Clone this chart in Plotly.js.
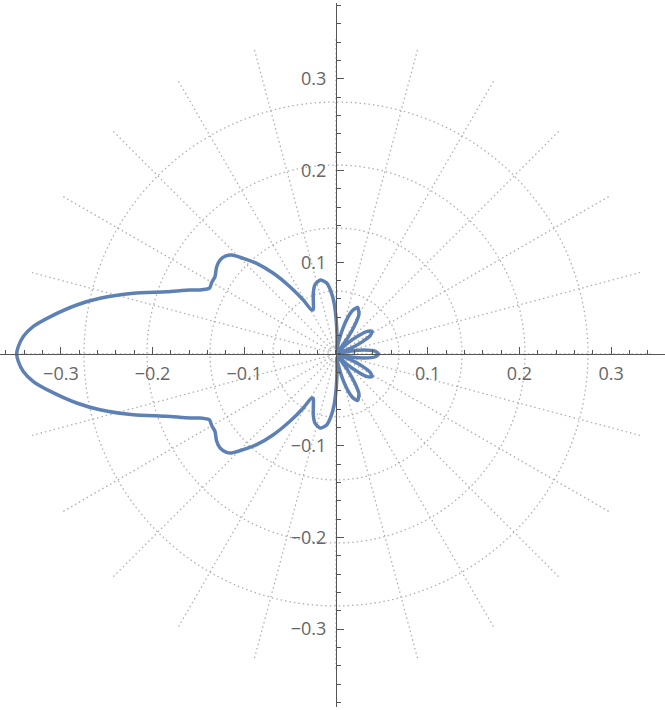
<!DOCTYPE html>
<html>
<head>
<meta charset="utf-8">
<script src="https://cdn.plot.ly/plotly-3.0.1.min.js"></script>
<style>html,body{margin:0;padding:0;background:#fff;}#chart{width:665px;height:710px;}</style>
</head>
<body>
<div id="chart"></div>
<script>
// Upper half of the polar curve (symmetric about the x-axis): angle in degrees, radius
const thetaDeg = [0, 4, 8, 11, 13.5, 17, 21, 25, 28, 32, 36, 39, 43, 47,
  51, 54, 57, 60, 65, 69, 72, 75, 78, 80.5, 83, 86, 88, 90, 92, 94.5, 97.5, 102,
  107, 110.5, 114, 117, 119, 121.2, 124.4, 127.8, 131.2, 134.1, 136.5, 138.3, 141,
  144, 147.4, 149.9, 152.5, 154.8, 156.3, 159.8, 163.3, 166.7, 169.3, 172.6,
  174.8, 176.8, 178.7, 180];
const radius = [0.0465, 0.043, 0.031, 0.017, 0.004, 0.004, 0.017, 0.032, 0.042, 0.0465, 0.042, 0.032, 0.017, 0.004,
  0.006, 0.022, 0.038, 0.050, 0.056, 0.051, 0.042, 0.029, 0.014, 0.005, 0.008, 0.016, 0.026, 0.040, 0.055, 0.068, 0.078, 0.0826,
  0.0787, 0.0707, 0.0606, 0.0545, 0.0550, 0.0688, 0.0889, 0.1114, 0.1314, 0.1453, 0.1568, 0.1607, 0.1628,
  0.1610, 0.1566, 0.1564, 0.1555, 0.1639, 0.1738, 0.1967, 0.2307, 0.2644, 0.2878, 0.3145,
  0.3314, 0.3415, 0.3466, 0.3482];

// Axis ticks
const tickVals = [-0.3, -0.2, -0.1, 0.1, 0.2, 0.3];
const tickText = ["\u22120.3", "\u22120.2", "\u22120.1", "0.1", "0.2", "0.3"];

// Polar grid
const gridRadii = [0.0035, 0.007, 0.0687, 0.1374, 0.2061, 0.2748];
const spokeAngles = [];
for (let a = 0; a < 360; a += 15) spokeAngles.push(a);
const spokeInner = 0.008, spokeOuter = 0.346;

// Build full closed curve: upper half forward, then lower half mirrored back
const xs = [], ys = [];
for (let i = 0; i < thetaDeg.length; i++) {
  const t = thetaDeg[i] * Math.PI / 180;
  xs.push(radius[i] * Math.cos(t)); ys.push(radius[i] * Math.sin(t));
}
for (let i = thetaDeg.length - 2; i >= 0; i--) {
  const t = -thetaDeg[i] * Math.PI / 180;
  xs.push(radius[i] * Math.cos(t)); ys.push(radius[i] * Math.sin(t));
}

const xr = [-0.3664, 0.3588];
const yr = [-0.3850, 0.3828];

const gridLine = {color: '#b0b0b0', width: 1.3, dash: '1.5px,3px'};
const shapes = [];
gridRadii.forEach(r => shapes.push({type: 'circle', xref: 'x', yref: 'y', x0: -r, x1: r, y0: -r, y1: r, line: gridLine, layer: 'below'}));
spokeAngles.forEach(a => {
  const t = a * Math.PI / 180;
  shapes.push({type: 'line', xref: 'x', yref: 'y',
    x0: spokeInner * Math.cos(t), y0: spokeInner * Math.sin(t),
    x1: spokeOuter * Math.cos(t), y1: spokeOuter * Math.sin(t),
    line: gridLine, layer: 'below'});
});

const tickFont = {family: 'Open Sans, Liberation Sans, sans-serif', size: 18, color: '#666'};
const axisCommon = {
  showgrid: false, zeroline: false, showline: true, linecolor: '#555', linewidth: 1,
  anchor: 'free', tickmode: 'array', tickvals: tickVals, ticktext: tickText,
  ticks: 'inside', ticklen: 7, tickwidth: 1, tickcolor: '#555', tickfont: tickFont,
  minor: {tickmode: 'linear', tick0: 0, dtick: 0.02, ticks: 'inside', ticklen: 4, tickwidth: 1, tickcolor: '#555', showgrid: false},
  fixedrange: true, automargin: false
};

const layout = {
  width: 665, height: 710,
  margin: {l: 0, r: 0, t: 3, b: 3},
  paper_bgcolor: '#fff', plot_bgcolor: '#fff',
  showlegend: false,
  xaxis: Object.assign({}, axisCommon, {range: xr, position: (0 - yr[0]) / (yr[1] - yr[0]), ticklabelstandoff: 3}),
  yaxis: Object.assign({}, axisCommon, {range: yr, position: (0 - xr[0]) / (xr[1] - xr[0]), ticklabelstandoff: 6}),
  shapes: shapes
};

Plotly.newPlot('chart', [{
  type: 'scatter', mode: 'lines', x: xs, y: ys,
  line: {color: '#5E81B5', width: 3.5, shape: 'spline', smoothing: 0.6},
  hoverinfo: 'skip'
}], layout, {staticPlot: true, displayModeBar: false});
</script>
</body>
</html>
